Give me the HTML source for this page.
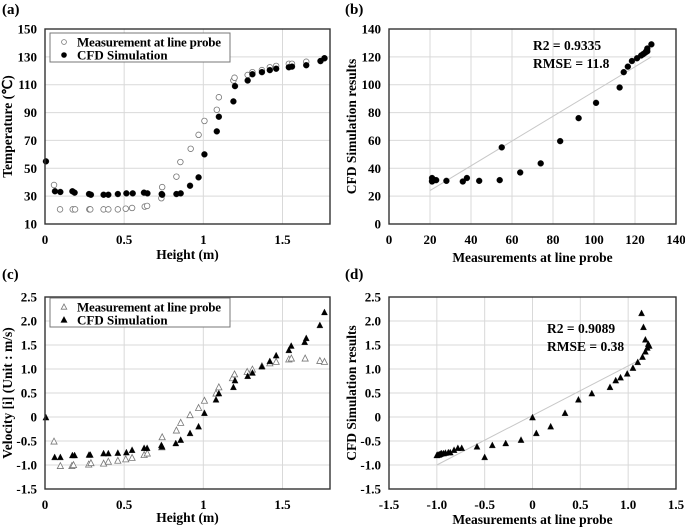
<!DOCTYPE html>
<html><head><meta charset="utf-8"><style>
html,body{margin:0;padding:0;background:#fff;}
svg{display:block;font-family:"Liberation Serif",serif;font-weight:bold;}
</style></head><body>
<svg id="fig" width="685" height="527" viewBox="0 0 685 527"></svg>
<script>
// Panel (a)/(c) heights
const heightMeas = [0.057,0.095,0.175,0.19,0.28,0.286,0.37,0.40,0.46,0.51,0.55,0.63,0.645,0.735,0.74,0.83,0.855,0.92,0.97,1.007,1.085,1.098,1.19,1.197,1.28,1.31,1.37,1.42,1.46,1.54,1.56,1.65,1.74,1.765];
const tempMeas = [38,20.5,20.5,20.5,20.5,20.5,20.5,20.5,20.5,21,21.5,22.5,23,28.5,36.5,44,54.5,64,74,84,92,101,113,115,117,119,120.5,122.5,123.5,125,125,126.5,127,129];
const heightCfd = [0.006,0.063,0.097,0.173,0.187,0.278,0.29,0.37,0.40,0.46,0.514,0.554,0.625,0.647,0.737,0.74,0.83,0.857,0.916,0.97,1.007,1.085,1.098,1.19,1.2,1.28,1.31,1.37,1.42,1.46,1.54,1.56,1.65,1.74,1.765];
const tempCfd = [55,33.5,33,33.5,32.5,31.5,31,31,31,31.5,32,32,32.5,32,31.5,31,31.5,32,37.5,43.5,60,76.5,87,98,109,113,117.5,119,120.5,121.5,122.5,123,124,127,129];
// Panel (b) pairs
const bMeas = [21,21,21.5,22,21,23,28,36,38,44,54,55,64,74,83.5,92.5,101,112.5,114.5,116.5,118.5,121,123,124,125,125.5,126,126,128];
const bCfd = [31,33,32,31.5,30.5,31.5,31,30.5,33,31,31.5,55,37,43.5,59.5,76,87,98,109,113,117,119,121,122,123,124,124,126,129];
// Panel (c) velocities
const velMeas = [-0.51,-1.02,-1.02,-1.0,-0.99,-0.96,-0.97,-0.93,-0.91,-0.88,-0.85,-0.79,-0.76,-0.63,-0.42,-0.28,-0.12,0.04,0.19,0.34,0.49,0.62,0.81,0.89,0.94,0.99,1.06,1.12,1.15,1.2,1.22,1.22,1.17,1.15];
const velHeightMeas = [0.057,0.097,0.17,0.18,0.276,0.29,0.37,0.40,0.46,0.51,0.55,0.626,0.646,0.737,0.74,0.83,0.857,0.916,0.97,1.007,1.08,1.098,1.184,1.197,1.277,1.31,1.37,1.42,1.46,1.54,1.556,1.643,1.736,1.765];
const velHeightCfd = [0.006,0.061,0.097,0.173,0.187,0.278,0.286,0.37,0.40,0.46,0.514,0.55,0.626,0.645,0.735,0.74,0.826,0.857,0.916,0.97,1.007,1.08,1.098,1.19,1.2,1.28,1.31,1.37,1.42,1.46,1.54,1.555,1.64,1.65,1.736,1.765];
const velCfd = [-0.01,-0.84,-0.84,-0.80,-0.80,-0.79,-0.79,-0.76,-0.76,-0.75,-0.74,-0.69,-0.65,-0.65,-0.59,-0.62,-0.55,-0.48,-0.34,-0.2,0.08,0.36,0.49,0.62,0.76,0.85,0.92,1.05,1.16,1.28,1.39,1.48,1.56,1.64,1.91,2.18];
// Panel (d) pairs
const dMeas = [-1.0,-0.99,-0.98,-0.97,-0.96,-0.95,-0.93,-0.91,-0.88,-0.86,-0.82,-0.78,-0.74,-0.58,-0.5,-0.42,-0.28,-0.12,0,0.04,0.19,0.34,0.48,0.62,0.81,0.87,0.92,0.99,1.05,1.1,1.15,1.18,1.2,1.22,1.21,1.18,1.16,1.14];
const dCfd = [-0.8,-0.79,-0.79,-0.78,-0.77,-0.76,-0.76,-0.75,-0.74,-0.74,-0.69,-0.65,-0.65,-0.62,-0.84,-0.59,-0.55,-0.48,-0.01,-0.34,-0.2,0.08,0.36,0.49,0.62,0.76,0.82,0.9,1.02,1.14,1.25,1.36,1.44,1.48,1.52,1.61,1.87,2.16];
const xTicksA = [0,0.5,1,1.5], yTicksA = [10,30,50,70,90,110,130,150];
const ticks140 = [0,20,40,60,80,100,120,140];
const yTicksV = [-1.5,-1.0,-0.5,0,0.5,1.0,1.5,2.0,2.5];
const xTicksD = [-1.5,-1.0,-0.5,0,0.5,1.0,1.5];
const trendB = [20,24,128,120];
const trendD = [-1.0,-1.0,1.15,1.22];

const NS="http://www.w3.org/2000/svg";
const svg=document.getElementById('fig');
function mk(tag,attrs,parent,text){const e=document.createElementNS(NS,tag);for(const k in attrs)e.setAttribute(k,attrs[k]);if(text!==undefined)e.textContent=text;(parent||svg).appendChild(e);return e;}
function fmtV(v){return v===0?'0':v.toFixed(1);}
function panel(p){
  const g=mk('g',{});
  
  
  const sx=v=>p.L+(v-p.x0)/(p.x1-p.x0)*(p.R-p.L);
  const sy=v=>p.B-(v-p.y0)/(p.y1-p.y0)*(p.B-p.T);
  p.xt.forEach(t=>{const l=mk('line',{x1:sx(t),x2:sx(t),y1:p.T,y2:p.B,stroke:'#d9d9d9','stroke-width':1},g);
    const tx=mk('text',{x:sx(t),y:p.B+20,'text-anchor':'middle','font-size':13},g,p.xf(t));});
  p.yt.forEach(t=>{const l=mk('line',{x1:p.L,x2:p.R,y1:sy(t),y2:sy(t),stroke:'#d9d9d9','stroke-width':1},g);
    const tx=mk('text',{x:p.L-8,y:sy(t)+4.5,'text-anchor':'end','font-size':13},g,p.yf(t));});
  if(p.trend){const l=mk('line',{x1:sx(p.trend[0]),y1:sy(p.trend[1]),x2:sx(p.trend[2]),y2:sy(p.trend[3]),stroke:'#c8c8c8','stroke-width':1},g);}
  p.series.forEach(s=>{s.xs.forEach((xv,i)=>{const X=sx(xv),Y=sy(s.ys[i]);let m;
    if(s.tri){m=mk('polygon',{points:`${X},${Y-3.4} ${X-3.1},${Y+2.6} ${X+3.1},${Y+2.6}`,fill:s.open?'#fff':'#000',stroke:s.open?'#777':'#000','stroke-width':s.open?0.8:0.3},g);}
    else{m=mk('circle',{cx:X,cy:Y,r:s.open?2.8:3.0,fill:s.open?'#fff':'#000',stroke:s.open?'#777':'#000','stroke-width':s.open?0.8:0.3},g);}
    });});
  const f=mk('rect',{x:p.L,y:p.T,width:p.R-p.L,height:p.B-p.T,fill:'none',stroke:'#333','stroke-width':1.4},g);
  
  const xt=mk('text',{x:(p.L+p.R)/2,y:p.B+p.xtOff,'text-anchor':'middle','font-size':13.5},g,p.xtitle);
  
  const yx=p.ytx, yy=(p.T+p.B)/2;
  const yt=mk('text',{x:yx,y:yy,'text-anchor':'middle','font-size':13.5,transform:`rotate(-90 ${yx} ${yy})`},g,p.ytitle);
  
  const pl=mk('text',{x:p.lx,y:p.ly,'font-size':15},g,p.label);
  
  if(p.legend){const lg=p.legend;const r=mk('rect',{x:lg.x,y:lg.y,width:180,height:29,fill:'#fff',stroke:'#777','stroke-width':1},g);
    
    [[lg.y+9,true,'Measurement at line probe'],[lg.y+22,false,'CFD Simulation']].forEach(([yy,open,txt])=>{const X=lg.x+14;let m;
      if(lg.tri)m=mk('polygon',{points:`${X},${yy-3} ${X-2.8},${yy+2.2} ${X+2.8},${yy+2.2}`,fill:open?'#fff':'#000',stroke:open?'#777':'#000','stroke-width':0.8},g);
      else m=mk('circle',{cx:X,cy:yy,r:2.4,fill:open?'#fff':'#000',stroke:open?'#777':'#000','stroke-width':0.8},g);
      
      const t=mk('text',{x:lg.x+27,y:yy+4.5,'font-size':13},g,txt);
      if(open)t.setAttribute('textLength','144');
      });}
  if(p.stats){p.stats.lines.forEach((s,i)=>{const t=mk('text',{x:p.stats.x,y:p.stats.y+i*18,'font-size':13.5},g,s);});}
}
panel({name:'panel-a-temperature',label:'(a)',lx:2,ly:14,L:45,R:330,T:29,B:224,x0:0,x1:1.8,y0:10,y1:150,xt:xTicksA,yt:yTicksA,xf:v=>String(v),yf:v=>String(v),xtitle:'Height (m)',xtOff:35,ytitle:'Temperature (\u2103)',ytx:12,
  legend:{x:50,y:33,tri:false},
  series:[{xs:heightMeas,ys:tempMeas,open:true,mark:'measurement-point'},{xs:heightCfd,ys:tempCfd,open:false,mark:'cfd-point'}]});
panel({name:'panel-b-temperature-scatter',label:'(b)',lx:345,ly:14,L:389,R:676,T:29,B:224,x0:0,x1:140,y0:0,y1:140,xt:ticks140,yt:ticks140,xf:v=>String(v),yf:v=>String(v),xtitle:'Measurements at line probe',xtOff:38,ytitle:'CFD Simulation results',ytx:356,
  trend:trendB,stats:{x:533,y:50,lines:['R2 = 0.9335','RMSE = 11.8']},
  series:[{xs:bMeas,ys:bCfd,open:false,mark:'scatter-point'}]});
panel({name:'panel-c-velocity',label:'(c)',lx:2,ly:279,L:45,R:330,T:297,B:489,x0:0,x1:1.8,y0:-1.5,y1:2.5,xt:xTicksA,yt:yTicksV,xf:v=>String(v),yf:fmtV,xtitle:'Height (m)',xtOff:33,ytitle:'Velocity [i] (Unit : m/s)',ytx:12,
  legend:{x:50,y:298,tri:true},
  series:[{xs:velHeightMeas,ys:velMeas,open:true,tri:true,mark:'measurement-point'},{xs:velHeightCfd,ys:velCfd,open:false,tri:true,mark:'cfd-point'}]});
panel({name:'panel-d-velocity-scatter',label:'(d)',lx:345,ly:279,L:389,R:676,T:297,B:489,x0:-1.5,x1:1.5,y0:-1.5,y1:2.5,xt:xTicksD,yt:yTicksV,xf:fmtV,yf:fmtV,xtitle:'Measurements at line probe',xtOff:35,ytitle:'CFD Simulation results',ytx:356,
  trend:trendD,stats:{x:547,y:333,lines:['R2 = 0.9089','RMSE = 0.38']},
  series:[{xs:dMeas,ys:dCfd,open:false,tri:true,mark:'scatter-point'}]});
</script>
</body></html>
